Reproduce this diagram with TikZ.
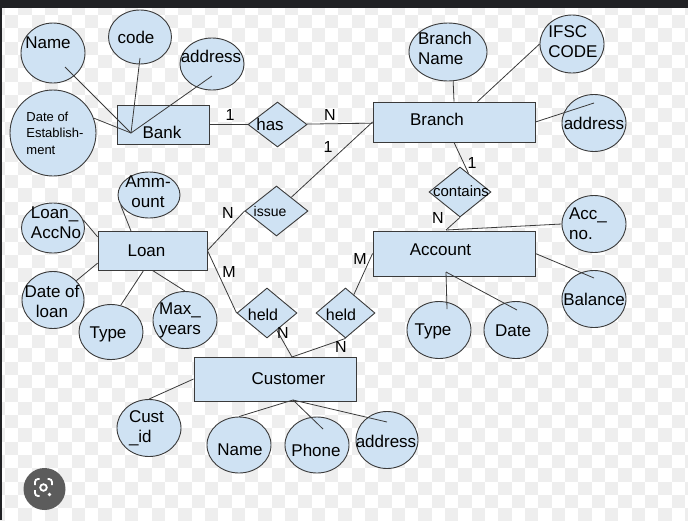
\documentclass[tikz,border=0pt]{standalone}
\usepackage{fontspec}
\setmainfont{Liberation Sans}
\usetikzlibrary{shapes.geometric}
\definecolor{erfill}{HTML}{CFE2F3}
\definecolor{erline}{HTML}{3A3A3A}
\definecolor{topbar}{HTML}{202124}
\definecolor{lensgray}{HTML}{5C5C5C}
\definecolor{checkgray}{HTML}{EEEEEE}

\begin{document}
\begin{tikzpicture}[
  x=1pt,
  y=-1pt,
  every node/.style={font=\fontsize{17}{20}\selectfont, text=black},
  entity/.style={draw=erline, fill=erfill, line width=0.9pt, inner sep=0pt},
  attrib/.style={ellipse, draw=erline, fill=erfill, line width=0.9pt, inner sep=0pt,
    minimum width=64, minimum height=57},
  relship/.style={diamond, draw=erline, fill=erfill, line width=0.9pt, inner sep=0pt},
  card/.style={font=\fontsize{16}{18}\selectfont},
  link/.style={erline, line width=0.8pt}
]
  \useasboundingbox (0,0) rectangle (688,520);

  % Background: checker and top bar
  \fill[white] (0,0) rectangle (688,520);
  \foreach \i in {-1,...,51} {
    \foreach \j in {-1,...,39} {
      \pgfmathtruncatemacro\odd{mod(\i+\j+100,2)}
      \ifnum\odd=1
        \fill[checkgray] (5+\i*13.333,1.7+\j*13.333) rectangle ++(13.333,13.333);
      \fi
    }
  }
  \fill[topbar] (0,0) rectangle (688,8);
  \fill[topbar] (0,0) rectangle (1.5,520);

  % Entities
  \node[entity, minimum width=92, minimum height=39,
    label={[xshift=-1pt,yshift=-7.5pt]center:Bank}] (bank) at (163,124.5) {};
  \node[entity, minimum width=162, minimum height=40,
    label={[xshift=-17pt,yshift=3pt]center:Branch}] (branch) at (454,122) {};
  \node[entity, minimum width=109, minimum height=39,
    label={[xshift=-6pt]center:Loan}] (loan) at (152.5,250.5) {};
  \node[entity, minimum width=162, minimum height=45,
    label={[xshift=-13.5pt,yshift=3.5pt]center:Account}] (account) at (454,253.5) {};
  \node[entity, minimum width=162, minimum height=44,
    label={[xshift=13.5pt]center:Customer}] (customer) at (275,379) {};

  % Relationships
  \node[relship, minimum width=59, minimum height=45,
    label={[xshift=-7.5pt]center:has}] (has) at (277.5,124.5) {};
  \node[relship, minimum width=63, minimum height=50,
    label={[font=\fontsize{14}{16}\selectfont,xshift=-6.5pt]center:issue}] (issue) at (276.5,211) {};
  \node[relship, minimum width=62, minimum height=50,
    label={[font=\fontsize{15}{17}\selectfont,xshift=1pt,yshift=1pt]center:contains}] (contains) at (460,192) {};
  \node[relship, minimum width=60, minimum height=50,
    label={[font=\fontsize{16}{18}\selectfont,xshift=-4pt,yshift=-2pt]center:held}] (heldone) at (267,313) {};
  \node[relship, minimum width=59, minimum height=50,
    label={[font=\fontsize{16}{18}\selectfont,xshift=-4.5pt,yshift=-2pt]center:held}] (heldtwo) at (345.5,313) {};

  % Bank attributes
  \node[attrib, minimum height=60,
    label={[xshift=-5pt,yshift=10pt]center:Name}] (bname) at (53,53) {};
  \node[attrib, minimum width=63, minimum height=54,
    label={[xshift=-4pt]center:code}] (bcode) at (140,37) {};
  \node[attrib, minimum height=52,
    label={[xshift=-1pt,yshift=8pt]center:address}] (baddr) at (212,64) {};
  \node[attrib, minimum width=86, minimum height=86,
    label={[align=left,font=\fontsize{13}{16.5}\selectfont,xshift=2pt]center:Date of\\Establish-\\ment}] (bdate) at (53,133) {};

  % Branch attributes
  \node[attrib, minimum width=78, minimum height=58,
    label={[align=left,xshift=-3pt,yshift=4pt]center:Branch\\Name}] (bbname) at (448,52) {};
  \node[attrib, minimum height=58,
    label={[align=left,xshift=1pt,yshift=2.5pt]center:IFSC\\CODE}] (ifsc) at (572,44) {};
  \node[attrib, label={center:address}] (braddr) at (594,123) {};

  % Loan attributes
  \node[attrib, minimum width=62, minimum height=46,
    label={[align=center,xshift=-1pt,yshift=3pt]center:Amm-\\ount}] (amount) at (149,195) {};
  \node[attrib, minimum width=63, minimum height=50,
    label={[align=left,xshift=3pt,yshift=5pt]center:Loan\_\\AccNo}] (lacc) at (53,228) {};
  \node[attrib, minimum width=62,
    label={[align=center,xshift=-1pt,yshift=-1pt]center:Date of\\loan}] (dloan) at (53,300) {};
  \node[attrib, minimum height=55,
    label={[xshift=-3pt,yshift=-2pt]center:Type}] (ltype) at (111,332) {};
  \node[attrib, label={[align=left,xshift=-5pt]center:Max\_\\years}] (maxy) at (185,320) {};

  % Account attributes
  \node[attrib, label={[align=left,xshift=-6pt]center:Acc\_\\no.}] (accno) at (594,224) {};
  \node[attrib, label={center:Balance}] (bal) at (594,299) {};
  \node[attrib, label={[xshift=-6pt,yshift=-1pt]center:Type}] (atype) at (439,330) {};
  \node[attrib, label={[xshift=-3pt,yshift=-1pt]center:Date}] (adate) at (516,330) {};

  % Customer attributes
  \node[attrib, label={[align=left,xshift=-2.5pt]center:Cust\\\_id}] (custid) at (149,428) {};
  \node[attrib, minimum height=56,
    label={[xshift=1pt,yshift=-5pt]center:Name}] (cname) at (239,445) {};
  \node[attrib, minimum height=56,
    label={[xshift=-1pt,yshift=-5pt]center:Phone}] (phone) at (317,445) {};
  \node[attrib, minimum width=62,
    label={[xshift=-1pt,yshift=-1pt]center:address}] (caddr) at (387,440) {};

  % Hub points
  \coordinate (bankhub) at (131,133);
  \coordinate (loantop) at (131,231);
  \coordinate (acctop) at (446,230);
  \coordinate (acchub) at (446,272);
  \coordinate (custtop) at (292,357);
  \coordinate (custbot) at (293,400);

  % Bank links
  \draw[link] ([xshift=12pt,yshift=-14pt]bname.center) -- (bankhub);
  \draw[link] ([yshift=-21pt]bcode.center) -- (bankhub);
  \draw[link] ([yshift=-12pt]baddr.center) -- (bankhub);
  \draw[link] (bdate.20) -- (bankhub);
  \draw[link] (bank) -- (has);
  \draw[link] (has) -- (branch);

  % Branch links
  \draw[link] (bbname.-80) -- (branch.north);
  \draw[link] (branch.41) -- (ifsc.west);
  \draw[link] (branch.east) -- ([yshift=20pt]braddr.center);
  \draw[link] (issue) -- (branch.west);
  \draw[link] (branch.south) -- (contains.65);

  % Account links
  \draw[link] (contains.south) -- (acctop);
  \draw[link] (acctop) -- (accno.west);
  \draw[link] (account.east) -- ([yshift=21pt]bal.center);
  \draw[link] (acchub) -- ([xshift=8pt,yshift=21pt]atype.center);
  \draw[link] (acchub) -- ([xshift=1pt,yshift=20pt]adate.center);
  \draw[link] (heldtwo) -- (account.west);

  % Loan links
  \draw[link] (amount.200) -- (loantop);
  \draw[link] (lacc.15) -- (loan.166);
  \draw[link] (dloan) -- (loan.193);
  \draw[link] (loan.246) -- (ltype.70);
  \draw[link] (loan.south) -- (maxy.north);
  \draw[link] (issue.west) -- (loan.east);
  \draw[link] (loan.east) -- (heldone.west);

  % Customer links
  \draw[link] (heldone) -- (custtop);
  \draw[link] (custtop) -- (heldtwo.south);
  \draw[link] (customer.west) -- (custid.north);
  \draw[link] (custbot) -- (cname.north);
  \draw[link] (custbot) -- ([xshift=6pt,yshift=16pt]phone.center);
  \draw[link] (custbot) -- ([yshift=18pt]caddr.center);

  % Cardinalities
  \node[card] (hasone) at (230,115) {1};
  \node[card] (hasn) at (330,115) {N};
  \node[card] (issueone) at (328,147) {1};
  \node[card] (issuen) at (228,213) {N};
  \node[card] (heldonem) at (229,272) {M};
  \node[card] (heldonen) at (283,333) {N};
  \node[card] (heldtwon) at (341,347) {N};
  \node[card] (heldtwom) at (360,259) {M};
  \node[card] (containsone) at (472,163) {1};
  \node[card] (containsn) at (438,218) {N};

  % Lens button
  \fill[lensgray] (44.5,489) circle (21);
  \draw[white, line width=1.8pt] (43.5,487.5) circle (3.3);
  \draw[white, line width=1.8pt, rounded corners=3pt] (35,485) |- (39.5,479);
  \draw[white, line width=1.8pt, rounded corners=3pt] (47.5,479) -| (52,485);
  \draw[white, line width=1.8pt, rounded corners=3pt] (35,490) |- (39.5,496);
  \fill[white] (49.5,494.5) circle (1.9);
\end{tikzpicture}
\end{document}
